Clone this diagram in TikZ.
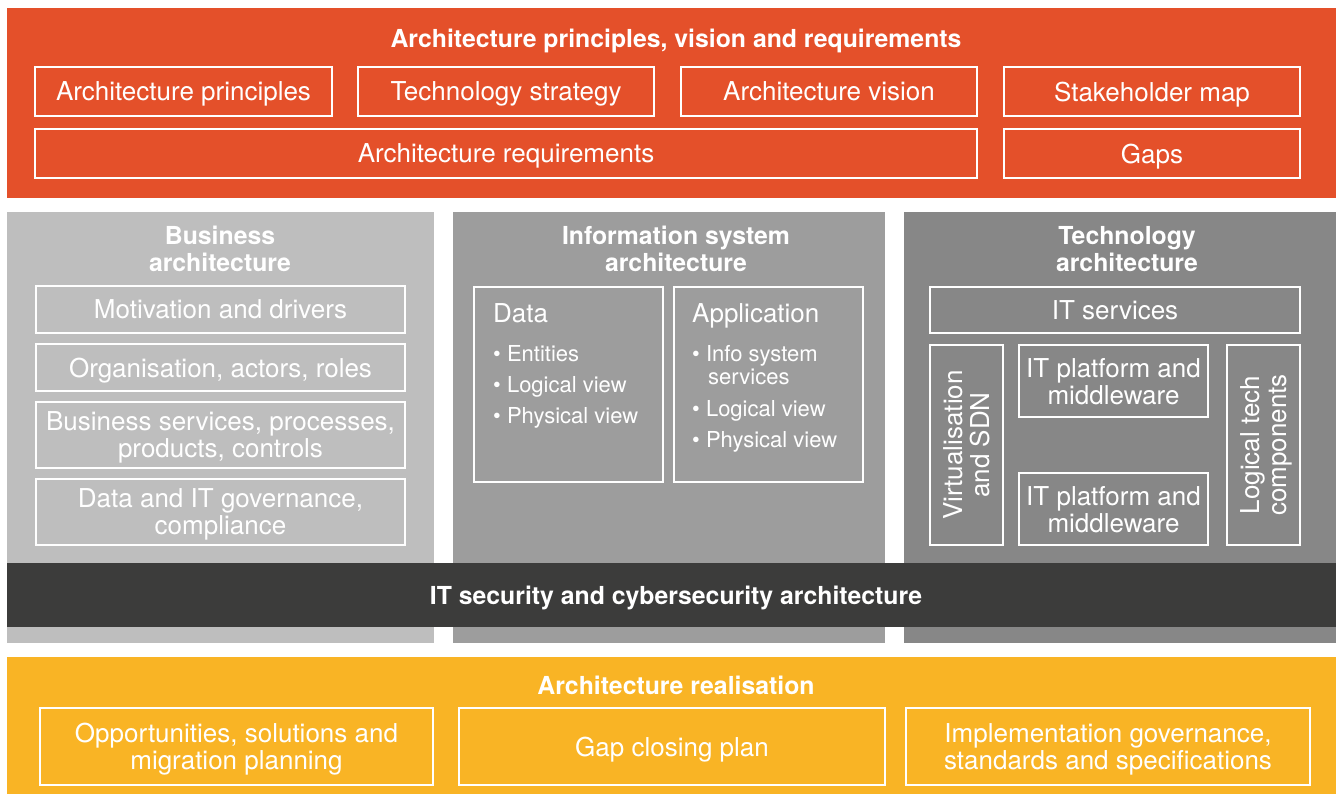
\documentclass[tikz,border=0pt]{standalone}
\usepackage{fontspec}
\setmainfont{TeX Gyre Heros}
\definecolor{bandred}{HTML}{E4502A}
\definecolor{bandyellow}{HTML}{F9B425}
\definecolor{grayA}{HTML}{BEBEBE}
\definecolor{grayB}{HTML}{9D9D9D}
\definecolor{grayC}{HTML}{878787}
\definecolor{darkband}{HTML}{3C3C3B}
\tikzset{
  txt/.style={text=white, font=\fontsize{26}{27}\selectfont, align=center, inner sep=0pt, text depth=0pt},
  ttl/.style={txt, font=\fontsize{24.8}{27}\selectfont\bfseries},
  wbox/.style={draw=white, line width=2.5pt, txt, minimum width=#1},
  lhead/.style={txt, anchor=west, align=left},
  litem/.style={txt, anchor=west, align=left, font=\fontsize{22}{24}\selectfont},
}
\begin{document}
\begin{tikzpicture}[x=1pt,y=-1pt]
\useasboundingbox (0,0) rectangle (1336,794);
% bands
\fill[bandred] (7,8) rectangle (1336,198);
\fill[grayA] (7,212) rectangle (434,643);
\fill[grayB] (453,212) rectangle (885,643);
\fill[grayC] (904,212) rectangle (1336,643);
\fill[darkband] (7,563) rectangle (1336,627);
\fill[bandyellow] (7,657) rectangle (1336,794);

% top
\node[ttl] (toptitle) at (676,38) {Architecture principles, vision and requirements};
\node[wbox=297pt, minimum height=49pt] (ap) at (183.5,91.5) {Architecture principles};
\node[wbox=296pt, minimum height=49pt] (ts) at (506,91.5) {Technology strategy};
\node[wbox=296pt, minimum height=49pt] (av) at (829,91.5) {Architecture vision};
\node[wbox=296pt, minimum height=49pt] (sm) at (1152,91.5) {Stakeholder map};
\node[wbox=942pt, minimum height=49pt] (ar) at (506,153.5) {Architecture requirements};
\node[wbox=296pt, minimum height=49pt] (gaps) at (1152,153.5) {Gaps};

% business
\node[ttl] (bt) at (220,249) {Business\\architecture};
\node[wbox=369pt, minimum height=47pt] (b1) at (220.5,309.5) {Motivation and drivers};
\node[wbox=369pt, minimum height=47pt] (b2) at (220.5,367.5) {Organisation, actors, roles};
\node[wbox=369pt, minimum height=66pt] (b3) at (220.5,435) {Business services, processes,\\products, controls};
\node[wbox=369pt, minimum height=66pt] (b4) at (220.5,512) {Data and IT governance,\\compliance};

% information system
\node[ttl] (it) at (676,249) {Information system\\architecture};
\node[wbox=189pt, minimum height=195pt] (data) at (568.5,384.5) {};
\node[wbox=189pt, minimum height=195pt] (app) at (768.5,384.5) {};
\node[lhead] (dt) at (493,313) {Data};
\node[litem] (d1) at (493,353) {\textbullet\ Entities};
\node[litem] (d2) at (493,384) {\textbullet\ Logical view};
\node[litem] (d3) at (493,415) {\textbullet\ Physical view};
\node[lhead] (at) at (692,313) {Application};
\node[litem] (a1) at (692,353) {\textbullet\ Info system};
\node[litem] (a1b) at (708,377) {services};
\node[litem] (a2) at (692,408) {\textbullet\ Logical view};
\node[litem] (a3) at (692,439) {\textbullet\ Physical view};

% technology
\node[ttl] (tt) at (1127,249) {Technology\\architecture};
\node[wbox=370pt, minimum height=46pt] (its) at (1115,310) {IT services};
\node[wbox=73pt, minimum height=200pt] (virt) at (966.5,445) {};
\node[txt, rotate=90] (virtt) at (virt.center) {Virtualisation\\and SDN};
\node[wbox=189pt, minimum height=72pt] (itp1) at (1113.5,381) {IT platform and\\middleware};
\node[wbox=189pt, minimum height=72pt] (itp2) at (1113.5,509) {IT platform and\\middleware};
\node[wbox=73pt, minimum height=200pt] (ltc) at (1263.5,445) {};
\node[txt, rotate=90] (ltct) at (ltc.center) {Logical tech\\components};

% security
\node[ttl] (sec) at (676,595) {IT security and cybersecurity architecture};

% realisation
\node[ttl] (rt) at (676,685) {Architecture realisation};
\node[wbox=393pt, minimum height=77pt] (r1) at (236.5,746.5) {Opportunities, solutions and\\migration planning};
\node[wbox=426pt, minimum height=77pt] (r2) at (672,746.5) {Gap closing plan};
\node[wbox=404pt, minimum height=77pt] (r3) at (1108,746.5) {Implementation governance,\\standards and specifications};
\end{tikzpicture}
\end{document}
